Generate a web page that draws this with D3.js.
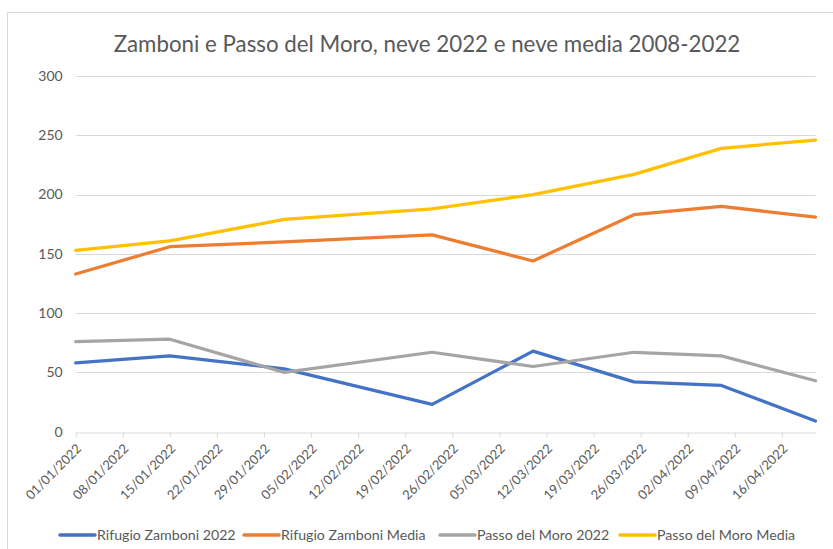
<!DOCTYPE html>
<html>
<head>
<meta charset="utf-8">
<script src="https://cdn.jsdelivr.net/npm/d3@7"></script>
<style>
    body { margin: 0; background: #fff; }
    text { font-family: Lato, "Open Sans", sans-serif; fill: #595959; }
</style>
</head>
<body>
<div id="chart"></div>
<script>
// dates of the snow surveys
let dates = ["2022-01-01", "2022-01-15", "2022-02-01", "2022-02-23", "2022-03-10", "2022-03-25", "2022-04-07", "2022-04-21"];

let zamboni2022 = [58, 64, 53, 23, 68, 42, 39, 9];
let zamboniMedia = [133, 156, 160, 166, 144, 183, 190, 181];
let moro2022 = [76, 78, 50, 67, 55, 67, 64, 43];
let moroMedia = [153, 161, 179, 188, 200, 217, 239, 246];

let seriesNames = ["Rifugio Zamboni 2022", "Rifugio Zamboni Media", "Passo del Moro 2022", "Passo del Moro Media"];
let yTicks = [0, 50, 100, 150, 200, 250, 300];

let title = "Zamboni e Passo del Moro, neve 2022 e neve media 2008-2022";

class SnowChart {

    constructor(parentElement) {
        this.parentElement = parentElement;
        this.initVis();
    }

    initVis() {
        let vis = this;

        vis.totalWidth = 833;
        vis.totalHeight = 549;
        vis.margin = {top: 76, right: 17.5, bottom: 117.3, left: 75.7};
        vis.width = vis.totalWidth - vis.margin.left - vis.margin.right;
        vis.height = vis.totalHeight - vis.margin.top - vis.margin.bottom;

        vis.root = d3.select("#" + vis.parentElement).append("svg")
            .attr("width", vis.totalWidth)
            .attr("height", vis.totalHeight);

        // chart frame (top + left edges visible)
        vis.root.append("path")
            .attr("d", "M7.5,560 L7.5,12.5 L840,12.5")
            .attr("fill", "none")
            .attr("stroke", "#d9d9d9")
            .attr("stroke-width", 1);

        vis.svg = vis.root.append("g")
            .attr("transform", "translate(" + vis.margin.left + "," + vis.margin.top + ")");

        // title
        let t = vis.root.append("text")
            .attr("x", 427)
            .attr("y", 52)
            .attr("text-anchor", "middle")
            .attr("font-size", 24)
            .text(title);
        let w = t.node().getComputedTextLength();
        t.attr("font-size", 24 * 627 / w);

        vis.parse = d3.utcParse("%Y-%m-%d");

        vis.x = d3.scaleUtc()
            .domain(d3.extent(dates, d => vis.parse(d)))
            .range([0, vis.width]);

        vis.y = d3.scaleLinear()
            .domain([0, 300])
            .range([vis.height, 0]);

        vis.colors = ["#4472C4", "#ED7D31", "#A5A5A5", "#FFC000"];

        this.wrangleData();
    }

    wrangleData() {
        let vis = this;
        let all = [zamboni2022, zamboniMedia, moro2022, moroMedia];
        vis.series = all.map((vals, i) => ({
            name: seriesNames[i],
            color: vis.colors[i],
            values: vals.map((v, j) => ({date: vis.parse(dates[j]), value: v}))
        }));
        this.updateVis();
    }

    updateVis() {
        let vis = this;

        // gridlines
        vis.svg.append("g")
            .selectAll("line")
            .data(yTicks.filter(d => d > 0))
            .join("line")
            .attr("x1", 0)
            .attr("x2", vis.width)
            .attr("y1", d => Math.round(vis.y(d)) + 0.5)
            .attr("y2", d => Math.round(vis.y(d)) + 0.5)
            .attr("stroke", "#d9d9d9");

        // y axis labels
        vis.svg.append("g")
            .selectAll("text")
            .data(yTicks)
            .join("text")
            .attr("x", -13)
            .attr("y", d => vis.y(d))
            .attr("dy", "0.35em")
            .attr("text-anchor", "end")
            .attr("font-size", 14)
            .text(d => d);

        // x axis
        let tickDates = d3.utcSaturday.range(vis.x.domain()[0], d3.utcDay.offset(vis.x.domain()[1], 1));
        vis.xAxis = d3.axisBottom(vis.x)
            .tickValues(tickDates)
            .tickSize(5)
            .tickSizeOuter(0)
            .tickFormat(d3.utcFormat("%d/%m/%Y"));

        let xg = vis.svg.append("g")
            .attr("transform", "translate(0," + (Math.round(vis.height) + 0.5) + ")")
            .call(vis.xAxis);
        xg.select(".domain").attr("stroke", "#d9d9d9");
        xg.selectAll(".tick line").attr("stroke", "#d9d9d9");
        xg.selectAll(".tick text")
            .attr("font-family", "Lato, sans-serif")
            .attr("font-size", 13)
            .attr("fill", "#595959")
            .attr("text-anchor", "end")
            .attr("y", 0)
            .attr("dy", 0)
            .attr("transform", "translate(6,17) rotate(-45)");

        // lines
        let line = d3.line()
            .x(d => vis.x(d.date))
            .y(d => vis.y(d.value));

        vis.svg.append("g")
            .selectAll("path")
            .data(vis.series)
            .join("path")
            .attr("d", d => line(d.values))
            .attr("fill", "none")
            .attr("stroke", d => d.color)
            .attr("stroke-width", 3.25)
            .attr("stroke-linejoin", "round")
            .attr("stroke-linecap", "round");

        // legend
        let legendX = [60, 244, 440, 620];
        let lg = vis.root.append("g")
            .selectAll("g")
            .data(vis.series)
            .join("g")
            .attr("transform", (d, i) => "translate(" + legendX[i] + ",535)");
        lg.append("line")
            .attr("x1", 0)
            .attr("x2", 35)
            .attr("stroke", d => d.color)
            .attr("stroke-width", 3.5)
            .attr("stroke-linecap", "round");
        lg.append("text")
            .attr("x", 37)
            .attr("dy", "0.35em")
            .attr("font-size", 14.2)
            .text(d => d.name);
    }
}

let myChart = new SnowChart("chart");
</script>
</body>
</html>
